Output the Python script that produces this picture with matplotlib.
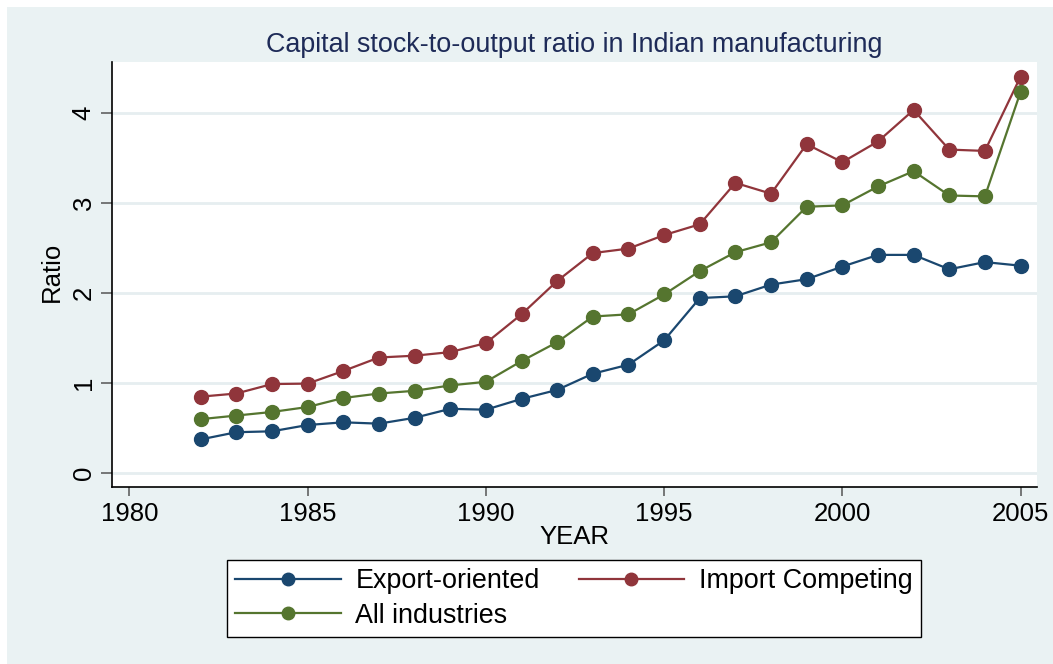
import matplotlib
matplotlib.use("Agg")
import matplotlib.pyplot as plt
from matplotlib.patches import Rectangle

plt.rcParams['font.family'] = ['Liberation Sans', 'DejaVu Sans']

years = list(range(1982, 2006))
export_oriented = [0.37, 0.45, 0.46, 0.53, 0.56, 0.545, 0.61, 0.71, 0.70, 0.82,
                   0.92, 1.10, 1.20, 1.47, 1.94, 1.96, 2.09, 2.15, 2.29, 2.42,
                   2.42, 2.26, 2.34, 2.30]
import_competing = [0.845, 0.88, 0.985, 0.99, 1.13, 1.28, 1.30, 1.34, 1.44, 1.76,
                    2.13, 2.44, 2.49, 2.64, 2.76, 3.22, 3.10, 3.65, 3.45, 3.68,
                    4.03, 3.59, 3.575, 4.40]
all_industries = [0.595, 0.635, 0.675, 0.73, 0.83, 0.88, 0.91, 0.97, 1.01, 1.24,
                  1.45, 1.735, 1.76, 1.98, 2.24, 2.45, 2.56, 2.955, 2.97, 3.18,
                  3.35, 3.08, 3.07, 4.23]
xticks = [1980, 1985, 1990, 1995, 2000, 2005]
yticks = [0, 1, 2, 3, 4]

W, H = 1053, 664
fig = plt.figure(figsize=(W / 100, H / 100), dpi=100)
fig.patch.set_facecolor('white')
bg = '#EAF2F3'
fig.patches.append(Rectangle((7 / W, 0), 1 - 7 / W, 1 - 7 / H, transform=fig.transFigure,
                             facecolor=bg, edgecolor='none', zorder=-10))

ax = fig.add_axes([112.3 / W, 1 - 487.3 / H, (1037.3 - 112.3) / W, (487.3 - 62) / H])
ax.set_facecolor('white')

navy = '#1A476F'
maroon = '#90353B'
green = '#55752F'
ms = 10
lw = 1.6
l1, = ax.plot(years, export_oriented, color=navy, marker='o', ms=ms, lw=lw, label='Export-oriented', zorder=3)
l2, = ax.plot(years, import_competing, color=maroon, marker='o', ms=ms, lw=lw, label='Import Competing', zorder=3)
l3, = ax.plot(years, all_industries, color=green, marker='o', ms=ms, lw=lw, label='All industries', zorder=3)

ax.set_xlim(1979.52, 2005.47)
ax.set_ylim(-0.162, 4.563)
ax.set_xticks(xticks)
ax.set_yticks(yticks)
ax.set_xticklabels([str(v) for v in xticks], fontsize=18.5)
ax.set_yticklabels([str(v) for v in yticks], fontsize=18.5, rotation=90, va='center')
ax.yaxis.grid(True, color='#E6EEF0', lw=2)
ax.set_axisbelow(True)
for s in ['top', 'right']:
    ax.spines[s].set_visible(False)
for s in ['left', 'bottom']:
    ax.spines[s].set_linewidth(1.2)
    ax.spines[s].set_color('black')
ax.tick_params(axis='y', length=8, width=1.1, color='#555555', pad=4)
ax.tick_params(axis='x', length=6.5, width=1.1, color='#555555', pad=4)

fig.text(574 / W, 1 - 45 / H, 'Capital stock-to-output ratio in Indian manufacturing',
         ha='center', va='center', fontsize=19.4, color='#1E2B58')
fig.text(574 / W, 1 - 537 / H, 'YEAR', ha='center', va='center', fontsize=18.5)
fig.text(52 / W, 1 - 272 / H, 'Ratio', ha='center', va='center', fontsize=18.5, rotation=90)

leg = ax.legend([l1, l3, l2], ['Export-oriented', 'All industries', 'Import Competing'],
                loc='center', bbox_to_anchor=(574 / W, 1 - 598.5 / H), bbox_transform=fig.transFigure,
                ncol=2, fontsize=19.4, frameon=True, fancybox=False, edgecolor='black',
                framealpha=1, facecolor='white',
                handlelength=3.9, handletextpad=0.55, columnspacing=1.45, labelspacing=0.3,
                borderpad=0.3, markerscale=0.9)
leg.get_frame().set_linewidth(1.0)

fig.savefig('out.png', dpi=100, facecolor='white')
